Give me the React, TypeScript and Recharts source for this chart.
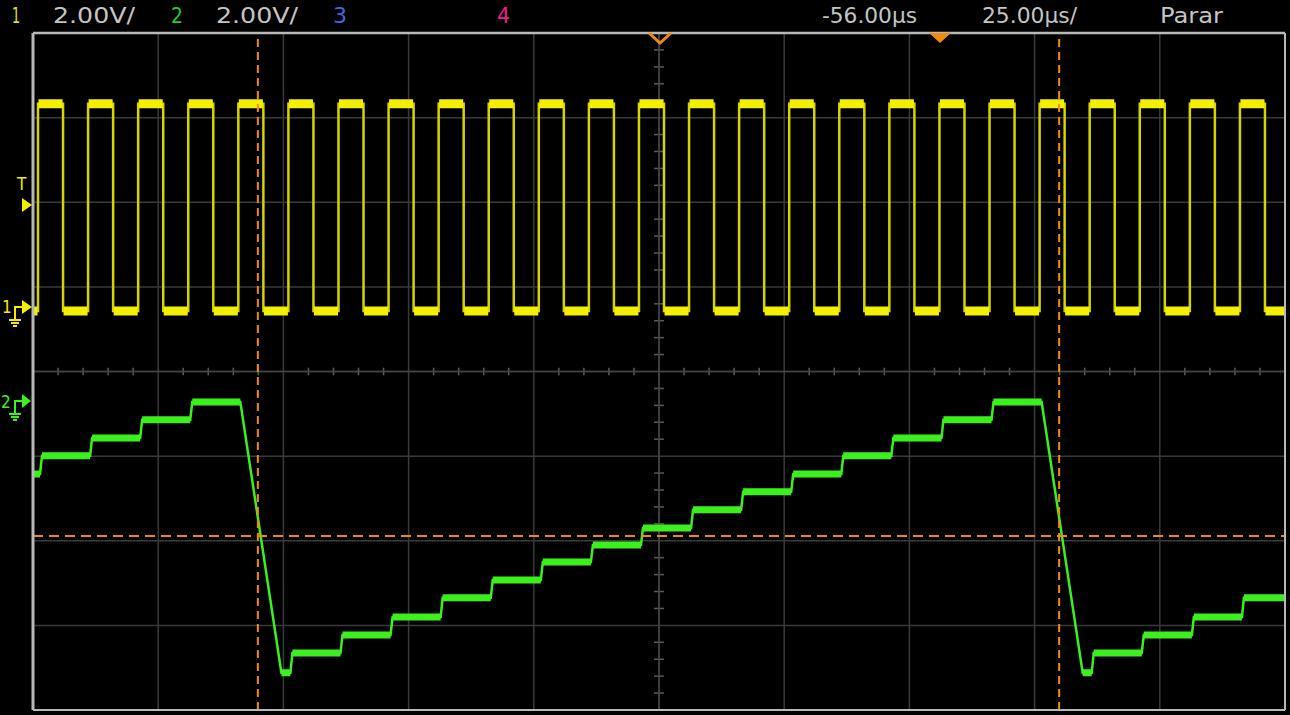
import React from "react";
import { LineChart, Line, XAxis, YAxis, CartesianGrid, ReferenceLine } from "recharts";

// ── Screen setup: 25 µs/div horizontally, 2 V/div vertically ─────────
const X_DIV_TICKS = [0, 25, 50, 75, 100, 125, 150, 175, 200, 225, 250];
const Y_DIV_TICKS = [-8, -6, -4, -2, 0, 2, 4, 6, 8];

// ── Channel 1: clock (yellow) ───────────────────────────────────────
const CH1_OFFSET = 1.43; // ground marker position, volts on screen
const CLK_LOW = 0;
const CLK_HIGH = 4.9;
const CLK_RISE = [
  1.0, 11.0, 21.0, 31.0, 41.0, 51.0, 61.0, 71.0, 81.0, 91.0, 101.0, 111.0, 121.0,
  131.0, 141.0, 151.0, 161.0, 171.0, 181.0, 191.0, 201.0, 211.0, 221.0, 231.0, 241.0,
];
const CLK_FALL = [
  6.0, 16.0, 26.0, 36.0, 46.0, 56.0, 66.0, 76.0, 86.0, 96.0, 106.0, 116.0, 126.0,
  136.0, 146.0, 156.0, 166.0, 176.0, 186.0, 196.0, 206.0, 216.0, 226.0, 236.0, 246.0,
];

// ── Channel 2: DAC staircase (green) ────────────────────────────────
const CH2_OFFSET = -0.74;
const DAC_START = [
  0, 1.8, 11.8, 21.8, 31.8,
  49.6, 51.8, 61.8, 71.8, 81.8, 91.8, 101.8, 111.8, 121.8, 131.8, 141.8, 151.8, 161.8,
  171.8, 181.8, 191.8,
  209.6, 211.8, 221.8, 231.8, 241.8,
];
const DAC_END = [
  1.4, 11.4, 21.4, 31.4, 41.4,
  51.4, 61.4, 71.4, 81.4, 91.4, 101.4, 111.4, 121.4, 131.4, 141.4, 151.4, 161.4, 171.4,
  181.4, 191.4, 201.4,
  211.4, 221.4, 231.4, 241.4, 250,
];
const DAC_LEVEL = [
  -1.68, -1.25, -0.83, -0.4, 0.02,
  -6.38, -5.91, -5.49, -5.06, -4.61, -4.19, -3.76, -3.36, -2.96, -2.53, -2.1, -1.68, -1.25,
  -0.83, -0.4, 0.02,
  -6.38, -5.91, -5.49, -5.06, -4.61,
];

// ── Cursors ─────────────────────────────────────────────────────────
const CURSOR_T = [44.9, 204.9];
const CURSOR_V = [-3.89];

// ── Build point tables ──────────────────────────────────────────────
type Pt = { t: number; v: number | null };

const clkTrace: Pt[] = [{ t: 0, v: CLK_LOW + CH1_OFFSET }];
const clkFlat: Pt[] = [];
CLK_RISE.forEach((r, i) => {
  const f = CLK_FALL[i];
  const next = CLK_RISE[i + 1] ?? 250;
  clkTrace.push({ t: r, v: CLK_LOW + CH1_OFFSET }, { t: r, v: CLK_HIGH + CH1_OFFSET });
  clkTrace.push({ t: f, v: CLK_HIGH + CH1_OFFSET }, { t: f, v: CLK_LOW + CH1_OFFSET });
  clkTrace.push({ t: next, v: CLK_LOW + CH1_OFFSET });
  clkFlat.push({ t: r + 0.1, v: CLK_HIGH + CH1_OFFSET }, { t: f - 0.1, v: CLK_HIGH + CH1_OFFSET }, { t: f, v: null });
  clkFlat.push({ t: f + 0.1, v: CLK_LOW + CH1_OFFSET }, { t: next - 0.1, v: CLK_LOW + CH1_OFFSET }, { t: next, v: null });
});
// leading low segment before first rise
clkFlat.unshift({ t: 0, v: CLK_LOW + CH1_OFFSET }, { t: CLK_RISE[0] - 0.1, v: CLK_LOW + CH1_OFFSET }, { t: CLK_RISE[0], v: null });

const dacTrace: Pt[] = [];
const dacFlat: Pt[] = [];
DAC_START.forEach((s, i) => {
  const v = DAC_LEVEL[i] + CH2_OFFSET;
  dacTrace.push({ t: s, v }, { t: DAC_END[i], v });
  dacFlat.push({ t: s, v }, { t: DAC_END[i], v }, { t: DAC_END[i] + 0.01, v: null });
});

const xMinor = X_DIV_TICKS.slice(0, -1).flatMap((d) => [d + 5, d + 10, d + 15, d + 20]);
const yMinor = Y_DIV_TICKS.slice(0, -1).flatMap((d) => [d + 0.4, d + 0.8, d + 1.2, d + 1.6]);

const GRID = "#3a3a3a";
const TICK = "#5a5a5a";
const BORDER = "#b8b8b8";
const ORANGE = "#f08a10";
const YELLOW = "#f2f000";
const GREEN = "#3cf01e";
const TXT = "#c4c4c4";
const FONT = "'DejaVu Sans Condensed', 'DejaVu Sans', sans-serif";

function Overlay() {
  return (
    <svg
      width={1290}
      height={715}
      style={{ position: "absolute", left: 0, top: 0, pointerEvents: "none" }}
    >
      {/* header */}
      <g fontFamily={FONT} fontSize={21}>
        <text x={12} y={23} fill="#e6e600" textLength={8} lengthAdjust="spacingAndGlyphs">1</text>
        <text x={53} y={23} fill={TXT} textLength={82} lengthAdjust="spacingAndGlyphs">2.00V/</text>
        <text x={171} y={23} fill="#22cc22" textLength={12} lengthAdjust="spacingAndGlyphs">2</text>
        <text x={216} y={23} fill={TXT} textLength={82} lengthAdjust="spacingAndGlyphs">2.00V/</text>
        <text x={333} y={23} fill="#4466e0" textLength={14} lengthAdjust="spacingAndGlyphs">3</text>
        <text x={497} y={23} fill="#e82288" textLength={13} lengthAdjust="spacingAndGlyphs">4</text>
        <text x={822} y={23} fill={TXT} textLength={95} lengthAdjust="spacingAndGlyphs">-56.00µs</text>
        <text x={982} y={23} fill={TXT} textLength={95} lengthAdjust="spacingAndGlyphs">25.00µs/</text>
        <text x={1160} y={23} fill={TXT} textLength={63} lengthAdjust="spacingAndGlyphs">Parar</text>
      </g>

      {/* trigger position + delay markers */}
      <path d="M649,33 L660,43 L671,33" stroke={ORANGE} strokeWidth={3} fill="none" />
      <path d="M929,33 L951,33 L940,43 Z" fill={ORANGE} />

      {/* trigger level marker */}
      <text x={17} y={190} fill={YELLOW} fontFamily={FONT} fontSize={17}>T</text>
      <path d="M22,198 L32,205 L22,212 Z" fill={YELLOW} />

      {/* channel 1 ground marker */}
      <g stroke={YELLOW} strokeWidth={2} fill="none">
        <path d="M15,319 L15,307 L23,307" />
        <path d="M9,320 L21,320 M11,323 L19,323 M13,326 L17,326" />
      </g>
      <text x={2} y={313} fill={YELLOW} fontFamily={FONT} fontSize={17}>1</text>
      <path d="M22,300 L32,307 L22,314 Z" fill={YELLOW} />

      {/* channel 2 ground marker */}
      <g stroke={GREEN} strokeWidth={2} fill="none">
        <path d="M15,413 L15,401 L23,401" />
        <path d="M9,414 L21,414 M11,417 L19,417 M13,420 L17,420" />
      </g>
      <text x={1} y={408} fill={GREEN} fontFamily={FONT} fontSize={17}>2</text>
      <path d="M22,394 L31,401 L22,408 Z" fill={GREEN} />
    </svg>
  );
}

export default function App() {
  return (
    <div style={{ position: "absolute", left: 0, top: 0, width: 1290, height: 715, background: "#000" }}>
      <LineChart
        width={1290}
        height={715}
        margin={{ top: 33, right: 5, bottom: 5, left: 33 }}
      >
        <XAxis type="number" dataKey="t" domain={[0, 250]} ticks={X_DIV_TICKS} hide allowDataOverflow />
        <YAxis type="number" dataKey="v" domain={[-8, 8]} ticks={Y_DIV_TICKS} hide allowDataOverflow />
        <CartesianGrid stroke={GRID} strokeWidth={1.5} />

        {/* minor ticks on centre cross */}
        {xMinor.map((t) => (
          <ReferenceLine
            key={"xm" + t}
            segment={[{ x: t, y: -0.09 }, { x: t, y: 0.09 }]}
            stroke={TICK}
            strokeWidth={1.5}
          />
        ))}
        {yMinor.map((v) => (
          <ReferenceLine
            key={"ym" + v}
            segment={[{ x: 124, y: v }, { x: 126, y: v }]}
            stroke={TICK}
            strokeWidth={1.5}
          />
        ))}
        <ReferenceLine x={125} stroke="#444" strokeWidth={1.5} />
        <ReferenceLine y={0} stroke="#444" strokeWidth={1.5} />

        {/* traces */}
        <Line data={clkTrace} dataKey="v" stroke="#d4d400" strokeWidth={2.5} dot={false} isAnimationActive={false} />
        <Line data={clkFlat} dataKey="v" stroke={YELLOW} strokeWidth={9} strokeLinecap="butt" dot={false} isAnimationActive={false} />
        <Line data={dacTrace} dataKey="v" stroke={GREEN} strokeWidth={2.5} dot={false} isAnimationActive={false} />
        <Line data={dacFlat} dataKey="v" stroke={GREEN} strokeWidth={7} strokeLinecap="butt" dot={false} isAnimationActive={false} />

        {/* cursors */}
        {CURSOR_T.map((t) => (
          <ReferenceLine key={"ct" + t} x={t} stroke={ORANGE} strokeWidth={2} strokeDasharray="8 5" />
        ))}
        {CURSOR_V.map((v) => (
          <ReferenceLine key={"cv" + v} y={v} stroke={ORANGE} strokeWidth={2} strokeDasharray="10 6" />
        ))}

        {/* graticule border */}
        <ReferenceLine x={0} stroke={BORDER} strokeWidth={3} />
        <ReferenceLine x={250} stroke={BORDER} strokeWidth={2} />
        <ReferenceLine y={8} stroke={BORDER} strokeWidth={2.5} />
        <ReferenceLine y={-8} stroke={BORDER} strokeWidth={2} />
      </LineChart>
      <Overlay />
    </div>
  );
}
